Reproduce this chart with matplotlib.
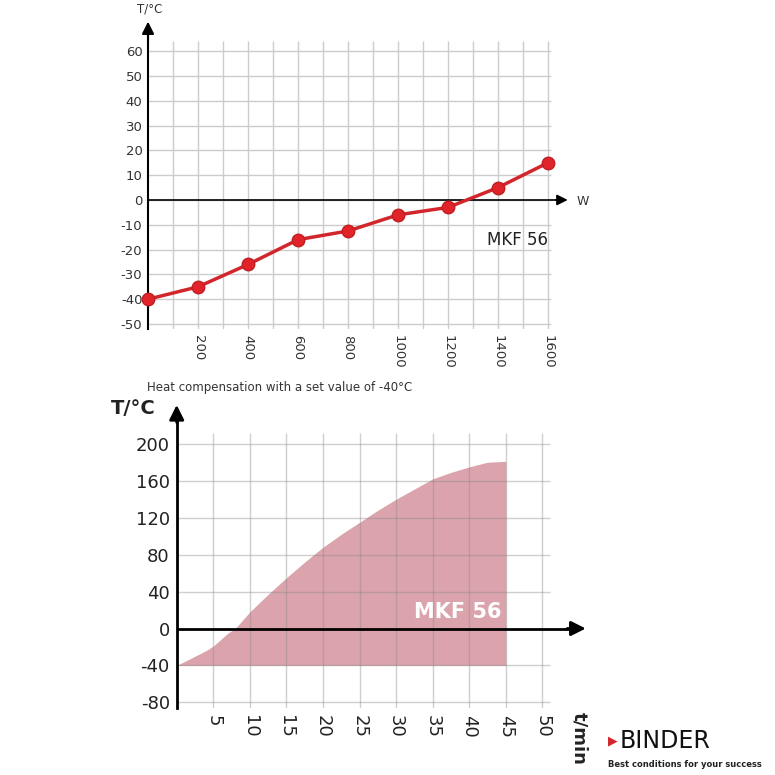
import matplotlib
matplotlib.use("Agg")
import matplotlib.pyplot as plt
import numpy as np

# Top chart data
power_w = [0, 200, 400, 600, 800, 1000, 1200, 1400, 1600]
temp_top = [-40, -35, -26, -16, -12.5, -6, -3, 5, 15]
top_xticks = [200, 400, 600, 800, 1000, 1200, 1400, 1600]
top_yticks = [60, 50, 40, 30, 20, 10, 0, -10, -20, -30, -40, -50]

# Bottom chart data
time_min = [0, 2, 4, 5, 7, 8, 10, 12.5, 15, 17.5, 20, 22.5, 25, 27.5, 30, 32.5, 35, 37.5, 40, 42.5, 45]
temp_bot = [-40, -32, -24, -19, -5, 0, 18, 37, 55, 72, 88, 102, 115, 128, 140, 151, 162, 169, 175, 180, 181]
bot_xticks = [5, 10, 15, 20, 25, 30, 35, 40, 45, 50]
bot_yticks = [200, 160, 120, 80, 40, 0, -40, -80]

plt.rcParams['font.family'] = ['DejaVu Sans']
fig = plt.figure(figsize=(7.75, 7.75), dpi=100)

# ---------- top ----------
ax = fig.add_axes([0.191, 0.5755, 0.529, 0.397])
ax.set_xlim(0, 1640)
ax.set_ylim(-52, 72)
for s in ax.spines.values():
    s.set_visible(False)
ax.hlines(top_yticks, 0, 1610, color='#cccccc', lw=1, zorder=1)
ax.vlines(np.arange(100, 1700, 100), -52, 64, color='#cccccc', lw=1, zorder=1)
ax.plot([0, 0], [-52, 66], color='black', lw=1.5, clip_on=False, zorder=3)
ax.annotate('', xy=(0, 73), xytext=(0, 63), arrowprops=dict(arrowstyle='-|>', color='black', lw=1.5, mutation_scale=18), annotation_clip=False)
ax.plot([0, 1640], [0, 0], color='black', lw=1.2, zorder=3, clip_on=False)
ax.annotate('', xy=(1690, 0), xytext=(1620, 0), arrowprops=dict(arrowstyle='-|>', color='black', lw=1.2, mutation_scale=16), annotation_clip=False)
ax.plot(power_w, temp_top, color='#d3262c', lw=2.5, marker='o', ms=9, mfc='#e0242a', mec='#c01e22', zorder=4, clip_on=False)
ax.set_xticks(top_xticks)
ax.set_xticklabels([str(v) for v in top_xticks], rotation=-90, fontsize=9.5, color='#333333')
ax.set_yticks(top_yticks)
ax.set_yticklabels([str(v) for v in top_yticks], fontsize=9.5, color='#333333')
ax.tick_params(length=0, pad=4)
ax.text(-45, 77, 'T/°C', fontsize=8.5, color='#333333', ha='left', va='center', clip_on=False)
ax.text(1715, -0.5, 'W', fontsize=9, color='#333333', va='center', clip_on=False)
ax.text(1355, -16, 'MKF 56', fontsize=12, color='#222222', ha='left', va='center')

# ---------- bottom ----------
bx = fig.add_axes([0.228, 0.0865, 0.538, 0.391])
bx.set_xlim(0, 57)
bx.set_ylim(-86, 242)
for s in bx.spines.values():
    s.set_visible(False)
bx.fill_between(time_min, -40, temp_bot, color='#d5949f', alpha=0.85, lw=0, zorder=1)
bx.hlines(bot_yticks, 0, 51, color='#888888', lw=1, alpha=0.4, zorder=2)
bx.vlines(bot_xticks, -86, 212, color='#888888', lw=1, alpha=0.4, zorder=2)
bx.plot([0, 0], [-86, 225], color='black', lw=2, clip_on=False, zorder=3)
bx.annotate('', xy=(0, 245), xytext=(0, 220), arrowprops=dict(arrowstyle='-|>', color='black', lw=2, mutation_scale=22), annotation_clip=False)
bx.plot([0, 54], [0, 0], color='black', lw=2, zorder=3)
bx.annotate('', xy=(56.3, 0), xytext=(53, 0), arrowprops=dict(arrowstyle='-|>', color='black', lw=2, mutation_scale=22), annotation_clip=False)
bx.set_xticks(bot_xticks)
bx.set_xticklabels([str(v) for v in bot_xticks], rotation=-90, fontsize=13, color='#222222')
bx.set_yticks(bot_yticks)
bx.set_yticklabels([str(v) for v in bot_yticks], fontsize=13, color='#222222')
bx.tick_params(length=0, pad=5)
bx.text(-9, 238, 'T/°C', fontsize=14, fontweight='bold', color='#222222', ha='left', va='center', clip_on=False)
bx.text(-4, 261, 'Heat compensation with a set value of -40°C', fontsize=8.5, color='#333333', ha='left', va='center', clip_on=False)
bx.text(32.5, 18, 'MKF 56', fontsize=15, fontweight='bold', color='white', ha='left', va='center', zorder=4)
bx.text(55, -90, 't/min', fontsize=13, fontweight='bold', rotation=-90, color='#222222', ha='center', va='top', clip_on=False)

# logo
fig.text(0.784, 0.044, '\u25B6', fontsize=9, color='#d3262c', ha='left', va='center')
fig.text(0.799, 0.044, 'BINDER', fontsize=17, color='#111111', ha='left', va='center')
fig.text(0.784, 0.013, 'Best conditions for your success', fontsize=6, fontweight='bold', color='#222222', ha='left', va='center')

fig.savefig('out.png', dpi=100, facecolor='white')
